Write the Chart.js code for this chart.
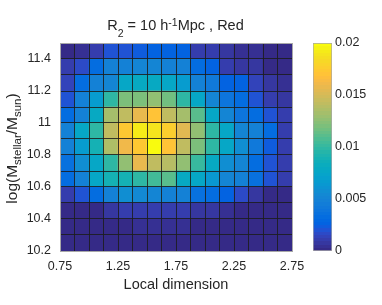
<!DOCTYPE html>
<html><head><meta charset="utf-8">
<script src="https://cdn.jsdelivr.net/npm/chart.js@4/dist/chart.umd.min.js"></script>
<style>
html,body{margin:0;padding:0;background:#fff;overflow:hidden;}
#wrap{position:relative;width:382px;height:305px;}
#main{position:absolute;left:0;top:0;width:382px;height:305px;}
#cbar{position:absolute;left:300px;top:0;width:82px;height:305px;}
</style></head>
<body><div id="wrap"><canvas id="main" width="382" height="305"></canvas><canvas id="cbar" width="82" height="305"></canvas></div>
<script>
// ---- data ----
const xEdges = [0.75,0.875,1.0,1.125,1.25,1.375,1.5,1.625,1.75,1.875,2.0,2.125,2.25,2.375,2.5,2.625,2.75];
const yEdges = [10.2,10.3,10.4,10.5,10.6,10.7,10.8,10.9,11.0,11.1,11.2,11.3,11.4,11.5];
const xTicks = [0.75,1.25,1.75,2.25,2.75];
const yTicks = [10.2,10.4,10.6,10.8,11.0,11.2,11.4];
const cTicks = [0,0.005,0.01,0.015,0.02];
const cMin = 0, cMax = 0.02;
// density per row, bottom (10.2-10.3) to top (11.4-11.5)
const row10_2 = [0.0002,0.0002,0.0002,0.0002,0.0002,0.0003,0.0003,0.0003,0.0003,0.0002,0.0002,0.0002,0.0002,0.0002,0.0001,0.0001];
const row10_3 = [0.0002,0.0002,0.0002,0.0003,0.0003,0.0005,0.0005,0.0005,0.0005,0.0003,0.0003,0.0002,0.0002,0.0002,0.0002,0.0001];
const row10_4 = [0.0003,0.0003,0.0003,0.0007,0.0010,0.0012,0.0012,0.0012,0.0010,0.0007,0.0007,0.0004,0.0003,0.0003,0.0003,0.0002];
const row10_5 = [0.0010,0.0020,0.0033,0.0047,0.0057,0.0055,0.0052,0.0047,0.0047,0.0037,0.0033,0.0025,0.0017,0.0007,0.0003,0.0003];
const row10_6 = [0.0033,0.0047,0.0075,0.0090,0.0090,0.0098,0.0105,0.0110,0.0080,0.0075,0.0065,0.0052,0.0047,0.0035,0.0020,0.0012];
const row10_7 = [0.0035,0.0057,0.0078,0.0098,0.0125,0.0158,0.0143,0.0140,0.0128,0.0103,0.0080,0.0057,0.0052,0.0033,0.0020,0.0012];
const row10_8 = [0.0047,0.0068,0.0088,0.0135,0.0160,0.0172,0.0200,0.0170,0.0143,0.0120,0.0098,0.0075,0.0057,0.0042,0.0022,0.0012];
const row10_9 = [0.0047,0.0075,0.0098,0.0143,0.0172,0.0192,0.0190,0.0178,0.0155,0.0125,0.0098,0.0075,0.0052,0.0047,0.0033,0.0012];
const row11_0 = [0.0033,0.0047,0.0080,0.0133,0.0143,0.0158,0.0170,0.0143,0.0133,0.0110,0.0075,0.0052,0.0038,0.0033,0.0020,0.0012];
const row11_1 = [0.0020,0.0047,0.0068,0.0098,0.0120,0.0120,0.0125,0.0117,0.0098,0.0075,0.0052,0.0038,0.0033,0.0020,0.0012,0.0009];
const row11_2 = [0.0013,0.0033,0.0047,0.0052,0.0075,0.0080,0.0080,0.0075,0.0067,0.0047,0.0042,0.0027,0.0027,0.0015,0.0009,0.0004];
const row11_3 = [0.0012,0.0016,0.0033,0.0047,0.0047,0.0052,0.0052,0.0047,0.0047,0.0033,0.0027,0.0012,0.0007,0.0007,0.0003,0.0002];
const row11_4 = [0.0003,0.0004,0.0012,0.0020,0.0020,0.0023,0.0027,0.0027,0.0026,0.0012,0.0012,0.0008,0.0005,0.0004,0.0002,0.0001];
const rows = [row10_2,row10_3,row10_4,row10_5,row10_6,row10_7,row10_8,row10_9,row11_0,row11_1,row11_2,row11_3,row11_4];

// ---- parula colormap (64) ----
const PARULA = [[0.2081,0.1663,0.5292],[0.2116,0.1898,0.5777],[0.2123,0.2138,0.6270],[0.2081,0.2386,0.6771],[0.1959,0.2645,0.7279],[0.1707,0.2919,0.7792],[0.1253,0.3242,0.8303],[0.0591,0.3598,0.8683],[0.0117,0.3875,0.8820],[0.0060,0.4086,0.8828],[0.0165,0.4266,0.8786],[0.0329,0.4430,0.8720],[0.0498,0.4586,0.8641],[0.0629,0.4737,0.8554],[0.0723,0.4887,0.8467],[0.0779,0.5040,0.8384],[0.0793,0.5200,0.8312],[0.0749,0.5375,0.8263],[0.0641,0.5570,0.8240],[0.0488,0.5772,0.8228],[0.0343,0.5966,0.8199],[0.0265,0.6137,0.8135],[0.0239,0.6287,0.8038],[0.0231,0.6418,0.7913],[0.0228,0.6535,0.7768],[0.0267,0.6642,0.7607],[0.0384,0.6743,0.7436],[0.0590,0.6838,0.7254],[0.0843,0.6928,0.7062],[0.1133,0.7015,0.6859],[0.1453,0.7098,0.6646],[0.1801,0.7177,0.6424],[0.2178,0.7250,0.6193],[0.2586,0.7317,0.5954],[0.3022,0.7376,0.5712],[0.3482,0.7424,0.5473],[0.3953,0.7459,0.5244],[0.4420,0.7481,0.5033],[0.4871,0.7491,0.4840],[0.5300,0.7491,0.4661],[0.5709,0.7485,0.4494],[0.6099,0.7473,0.4337],[0.6473,0.7456,0.4188],[0.6834,0.7435,0.4044],[0.7184,0.7411,0.3905],[0.7525,0.7384,0.3768],[0.7858,0.7356,0.3633],[0.8185,0.7327,0.3498],[0.8507,0.7299,0.3360],[0.8824,0.7274,0.3217],[0.9139,0.7258,0.3063],[0.9450,0.7261,0.2886],[0.9739,0.7314,0.2666],[0.9938,0.7455,0.2403],[0.9990,0.7653,0.2164],[0.9955,0.7861,0.1967],[0.9880,0.8066,0.1794],[0.9789,0.8271,0.1633],[0.9697,0.8481,0.1475],[0.9626,0.8705,0.1309],[0.9589,0.8949,0.1132],[0.9598,0.9218,0.0948],[0.9661,0.9514,0.0755],[0.9763,0.9831,0.0538]];
function rgbOf(c){return 'rgb('+Math.round(c[0]*255)+','+Math.round(c[1]*255)+','+Math.round(c[2]*255)+')';}
function parula(v){
  let t=(v-cMin)/(cMax-cMin); t=Math.max(0,Math.min(1,t));
  const idx=Math.min(63,Math.floor(t*64));
  return rgbOf(PARULA[idx]);
}

const FONT = '"Liberation Sans", Arial, Helvetica, sans-serif';
const TXT = '#262626';
const EDGE = 'rgba(28,28,28,0.85)';
Chart.defaults.font.family = FONT;

// ---- datasets: one per row of cells ----
const xCenters = xEdges.slice(0,-1).map((e,i)=>(e+xEdges[i+1])/2);
const datasets = rows.map((vals, r) => ({
  data: vals.map((v,i)=>({x:xCenters[i], y:[yEdges[r], yEdges[r+1]]})),
  backgroundColor: vals.map(parula),
  borderWidth: 0,
  grouped: false,
  barPercentage: 1,
  categoryPercentage: 1
}));

function drawRich(ctx, segs, x, y, rotate){
  ctx.save();
  ctx.translate(x,y);
  if(rotate) ctx.rotate(-Math.PI/2);
  let w=0;
  segs.forEach(s=>{ctx.font=s.size+'px '+FONT; s.w=ctx.measureText(s.t).width; w+=s.w;});
  let cx=-w/2;
  ctx.textAlign='left'; ctx.textBaseline='alphabetic'; ctx.fillStyle=TXT;
  segs.forEach(s=>{ctx.font=s.size+'px '+FONT; ctx.fillText(s.t,cx,s.dy); cx+=s.w;});
  ctx.restore();
}
const richText = {
  id:'richText',
  afterDraw(chart){
    const ctx=chart.ctx;
    drawRich(ctx,[
      {t:'R',size:14.5,dy:0},{t:'2',size:10.5,dy:7},
      {t:' = 10 h',size:14.5,dy:0},{t:'-1',size:10.5,dy:-4},
      {t:'Mpc , Red',size:14.5,dy:0}],175.5,30,false);
    drawRich(ctx,[
      {t:'log(M',size:15.5,dy:0},{t:'stellar',size:11.5,dy:4},
      {t:'/M',size:15.5,dy:0},{t:'sun',size:11.5,dy:4},
      {t:')',size:15.5,dy:0}],17,148.5,true);
  }
};

new Chart(document.getElementById('main'), {
  type:'bar',
  data:{datasets},
  options:{
    responsive:false, animation:false, events:[],
    layout:{padding:{left:0,right:90,top:43,bottom:0}},
    plugins:{legend:{display:false},tooltip:{enabled:false},title:{display:false}},
    scales:{
      x:{type:'linear', position:'bottom', min:xEdges[0], max:xEdges[xEdges.length-1], offset:false,
         afterBuildTicks:s=>{s.ticks=xTicks.map(v=>({value:v}));},
         ticks:{padding:8, color:TXT, font:{size:12.5}, maxRotation:0, autoSkip:false, callback:v=>v.toFixed(2)},
         grid:{display:false, drawTicks:false, offset:false},
         border:{display:true, color:'#a8a8a8', width:1, z:2},
         title:{display:true, text:'Local dimension', color:TXT, font:{size:14.5}, padding:{top:0,bottom:11}},
         afterFit:s=>{s.height=54;}},
      y:{type:'linear', position:'left', min:yEdges[0], max:yEdges[yEdges.length-1],
         afterBuildTicks:s=>{s.ticks=yTicks.map(v=>({value:v}));},
         ticks:{padding:9, color:TXT, font:{size:12.5}, autoSkip:false, callback:v=>String(parseFloat(v.toFixed(2)))},
         grid:{display:false, drawTicks:false},
         border:{display:true, color:'#a8a8a8', width:1, z:2},
         afterFit:s=>{s.width=60;}},
      // cell edge lines
      x2:{type:'linear', position:'top', min:xEdges[0], max:xEdges[xEdges.length-1], offset:false,
         afterBuildTicks:s=>{s.ticks=xEdges.map(v=>({value:v}));},
         ticks:{display:false}, grid:{display:true, drawTicks:false, color:EDGE, lineWidth:1, z:1, offset:false},
         border:{display:true, color:'#a8a8a8', width:1, z:2}, afterFit:s=>{s.height=0;}},
      y2:{type:'linear', position:'right', min:yEdges[0], max:yEdges[yEdges.length-1],
         afterBuildTicks:s=>{s.ticks=yEdges.map(v=>({value:v}));},
         ticks:{display:false}, grid:{display:true, drawTicks:false, color:EDGE, lineWidth:1, z:1},
         border:{display:true, color:'#a8a8a8', width:1, z:2}, afterFit:s=>{s.width=0;}}
    }
  },
  plugins:[richText]
});

// ---- colorbar ----
new Chart(document.getElementById('cbar'), {
  type:'bar',
  data:{labels:['c'], datasets:[{
    data:[[cMin,cMax]],
    backgroundColor:(c)=>{
      const ch=c.chart, ys=ch.scales.y;
      if(!ch.chartArea||!ys) return '#888';
      const y0=ys.getPixelForValue(cMin), y1=ys.getPixelForValue(cMax);
      const g=ch.ctx.createLinearGradient(0,y0,0,y1);
      for(let i=0;i<64;i++){
        g.addColorStop(i/64, rgbOf(PARULA[i]));
        g.addColorStop((i+1)/64-0.0001, rgbOf(PARULA[i]));
      }
      return g;
    },
    borderColor:'#a8a8a8', borderWidth:1, borderSkipped:false,
    barPercentage:1, categoryPercentage:1
  }]},
  options:{
    responsive:false, animation:false, events:[],
    layout:{padding:{left:13,right:0,top:43,bottom:54}},
    plugins:{legend:{display:false},tooltip:{enabled:false}},
    scales:{
      x:{display:false, offset:true},
      y:{type:'linear', position:'right', min:cMin, max:cMax,
         afterBuildTicks:s=>{s.ticks=cTicks.map(v=>({value:v}));},
         ticks:{padding:3, color:TXT, font:{size:12.5}, autoSkip:false, callback:v=>String(parseFloat(v.toFixed(3)))},
         grid:{display:false, drawTicks:false},
         border:{display:false},
         afterFit:s=>{s.width=50;}}
    }
  }
});
</script>
</body></html>
